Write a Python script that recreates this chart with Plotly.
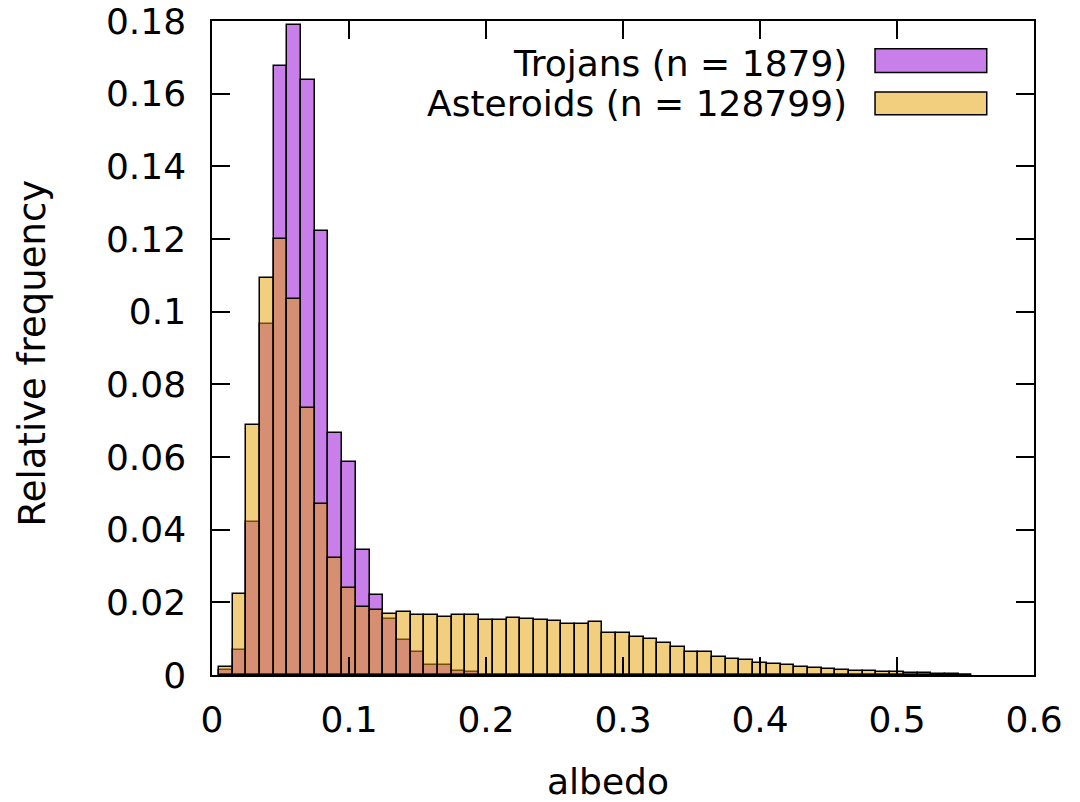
import plotly.graph_objects as go

# ---- data (bin centres, bin width 0.01) ----
albedo_bins = [round(0.01 * k, 2) for k in range(1, 56)]

trojans = [0.0015, 0.0069, 0.0422, 0.0965, 0.1677, 0.1788, 0.1639, 0.1221, 0.0666, 0.0586,
           0.0345, 0.0219, 0.0155, 0.0096, 0.0062, 0.0027, 0.0027, 0.0011, 0.0007, 0.0,
           0.0, 0.0, 0.0, 0.0, 0.0, 0.0, 0.0, 0.0, 0.0, 0.0,
           0.0, 0.0, 0.0, 0.0, 0.0, 0.0, 0.0, 0.0, 0.0, 0.0,
           0.0, 0.0, 0.0, 0.0, 0.0, 0.0, 0.0, 0.0, 0.0, 0.0,
           0.0, 0.0, 0.0, 0.0, 0.0]

asteroids = [0.0022, 0.0224, 0.0687, 0.1093, 0.1201, 0.1036, 0.0736, 0.0472, 0.0323, 0.0240,
             0.0188, 0.0180, 0.0169, 0.0173, 0.0165, 0.0165, 0.0160, 0.0164, 0.0164, 0.0152,
             0.0152, 0.0157, 0.0154, 0.0152, 0.0149, 0.0141, 0.0141, 0.0146, 0.0115, 0.0115,
             0.0104, 0.0099, 0.0088, 0.0076, 0.0064, 0.0064, 0.0049, 0.0045, 0.0041, 0.0033,
             0.0029, 0.0027, 0.0023, 0.0019, 0.0016, 0.0015, 0.0012, 0.0011, 0.0007, 0.0007,
             0.0006, 0.0005, 0.0002, 0.0002, 0.0001]

series_names = ["Trojans (n = 1879)", "Asteroids (n = 128799)"]

x_tick_vals = [0, 0.1, 0.2, 0.3, 0.4, 0.5, 0.6]
x_tick_text = ["0", "0.1", "0.2", "0.3", "0.4", "0.5", "0.6"]
y_tick_vals = [0, 0.02, 0.04, 0.06, 0.08, 0.1, 0.12, 0.14, 0.16, 0.18]
y_tick_text = ["0", "0.02", "0.04", "0.06", "0.08", "0.1", "0.12", "0.14", "0.16", "0.18"]

# ---- styles ----
FONT = "DejaVu Sans"
FS = 36
purple = "rgba(148,0,211,0.5)"
yellow = "rgba(230,159,0,0.5)"

fig = go.Figure()
fig.add_trace(go.Bar(x=albedo_bins, y=trojans, width=0.01, name=series_names[0],
                     marker=dict(color=purple, line=dict(color="black", width=1.5))))
fig.add_trace(go.Bar(x=albedo_bins, y=asteroids, width=0.01, name=series_names[1],
                     marker=dict(color=yellow, line=dict(color="black", width=1.5))))

axis_common = dict(showline=True, linecolor="black", linewidth=1.5, mirror="ticks",
                   ticks="inside", ticklen=18, tickwidth=1.5, tickcolor="black",
                   showgrid=False, zeroline=False, automargin=False,
                   tickfont=dict(family=FONT, size=FS, color="black"))

fig.update_layout(
    width=1080, height=802,
    margin=dict(l=212, r=46, t=21, b=127, autoexpand=False),
    paper_bgcolor="white", plot_bgcolor="white",
    barmode="overlay", bargap=0,
    showlegend=False,
    font=dict(family=FONT, size=FS, color="black"),
    xaxis=dict(range=[0, 0.6], tickvals=x_tick_vals, ticktext=x_tick_text,
               ticklabelstandoff=12, **axis_common),
    yaxis=dict(range=[0, 0.18], tickvals=y_tick_vals, ticktext=y_tick_text,
               ticklabelstandoff=17, **axis_common),
)

# axis titles
fig.add_annotation(text="albedo", xref="paper", yref="paper", x=0.482, y=-0.163,
                   xanchor="center", yanchor="middle", showarrow=False,
                   font=dict(family=FONT, size=FS, color="black"))
fig.add_annotation(text="Relative frequency", xref="paper", yref="paper", x=-0.218, y=0.493,
                   xanchor="center", yanchor="middle", textangle=-90, showarrow=False,
                   font=dict(family=FONT, size=37, color="black"))

# legend (gnuplot style: text right, key box to the right)
legend_rows = [(series_names[0], purple, 0.9356, 0.9214, 0.9576),
               (series_names[1], yellow, 0.8745, 0.8568, 0.8913)]
for name, col, ty, y0, y1 in legend_rows:
    fig.add_annotation(text=name, xref="paper", yref="paper", x=0.7746, y=ty,
                       xanchor="right", yanchor="middle", showarrow=False,
                       font=dict(family=FONT, size=FS, color="black"))
    fig.add_shape(type="rect", xref="paper", yref="paper", x0=0.8066, x1=0.9425,
                  y0=y0, y1=y1, fillcolor=col, line=dict(color="black", width=1.5))

fig.write_html("out.html")
